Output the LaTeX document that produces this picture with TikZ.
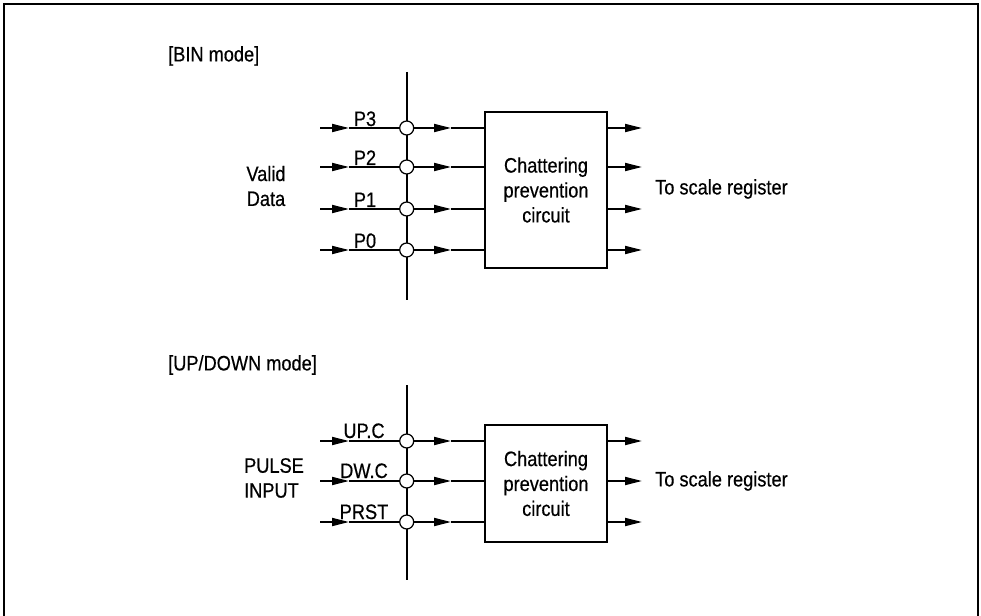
\documentclass[tikz,border=0pt]{standalone}
\usepackage{fontspec}
\setmainfont{Liberation Sans}[FakeStretch=0.87, FakeBold=0.5]
\usetikzlibrary{arrows.meta}
\begin{document}
\begin{tikzpicture}[x=1bp,y=-1bp,
  lbl/.style={font=\fontsize{21}{25}\selectfont, inner sep=0pt},
  wire/.style={line width=1.8bp},
  arr/.style={wire, -{Triangle[length=17bp,width=8bp]}},
  junc/.style={circle, draw, line width=1.2bp, fill=white, minimum size=14bp, inner sep=0pt},
  cpc/.style={draw, line width=1.3bp, minimum width=122bp, align=center,
              font=\fontsize{21}{25}\selectfont, inner sep=0pt},
  frame/.style={line width=1.6bp}]
\useasboundingbox (0,0) rectangle (981,616);
% outer frame
\coordinate (f1) at (4,616);
\coordinate (f2) at (4,4);
\coordinate (f3) at (978,4);
\coordinate (f4) at (978,616);
\draw[frame] (f1) -- (f2) -- (f3) -- (f4);

% ===== BIN mode =====
\node[lbl, anchor=west] (binmode) at (168,56) {[BIN mode]};
\coordinate (vt1) at (406.7,72);
\coordinate (vb1) at (406.7,300);
\draw[wire] (vt1) -- (vb1);
\node[cpc, minimum height=156bp] (box1) at (546,190) {Chattering\\prevention\\circuit};
\foreach \n/\y/\t in {3/128/P3, 2/167/P2, 1/209/P1, 0/250/P0}{
  \coordinate (in\n) at (320,\y);
  \coordinate (a\n) at (349,\y);
  \node[junc] (c\n) at (406.7,\y) {};
  \coordinate (b\n) at (451,\y);
  \coordinate (o\n) at (642,\y);
  \draw[arr] (in\n) -- (a\n);
  \draw[wire] (a\n) -- (c\n.west);
  \draw[arr] (c\n.east) -- (b\n);
  \draw[wire] (b\n) -- (box1.west |- c\n);
  \draw[arr] (box1.east |- c\n) -- (o\n);
  \node[lbl, anchor=base] (p\n) at (365,\y-2) {\t};
}
\node[lbl, align=center] (valid) at (266,186) {Valid\\Data};
\node[lbl, anchor=west] (toscale1) at (655,189) {To scale register};

% ===== UP/DOWN mode =====
\node[lbl, anchor=west] (udmode) at (168,365) {[UP/DOWN mode]};
\coordinate (vt2) at (406.7,385);
\coordinate (vb2) at (406.7,580);
\draw[wire] (vt2) -- (vb2);
\node[cpc, minimum height=117bp] (box2) at (546,483.5) {Chattering\\prevention\\circuit};
\foreach \n/\y/\t in {u/441/UP.C, d/481/DW.C, r/522/PRST}{
  \coordinate (in\n) at (320,\y);
  \coordinate (a\n) at (349,\y);
  \node[junc] (c\n) at (406.7,\y) {};
  \coordinate (b\n) at (451,\y);
  \coordinate (o\n) at (642,\y);
  \draw[arr] (in\n) -- (a\n);
  \draw[wire] (a\n) -- (c\n.west);
  \draw[arr] (c\n.east) -- (b\n);
  \draw[wire] (b\n) -- (box2.west |- c\n);
  \draw[arr] (box2.east |- c\n) -- (o\n);
  \node[lbl, anchor=base] (q\n) at (364,\y-3) {\t};
}
\node[lbl, align=left] (pulse) at (274,478) {PULSE\\INPUT};
\node[lbl, anchor=west] (toscale2) at (655,481) {To scale register};
\end{tikzpicture}
\end{document}
